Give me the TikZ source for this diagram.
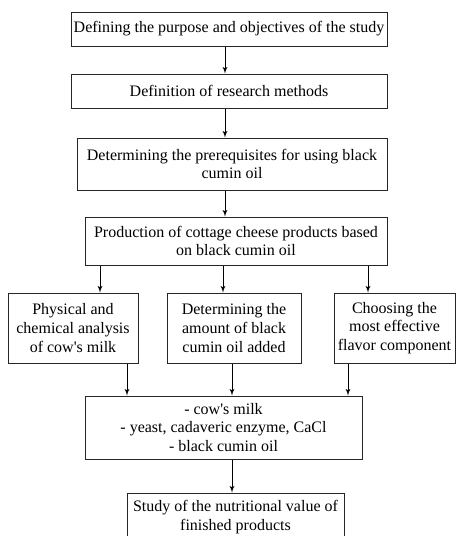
\documentclass[tikz,border=0pt]{standalone}
\usepackage{fontspec}
\setmainfont{Liberation Serif}[Ligatures=TeXOff]
\usetikzlibrary{arrows}

\begin{document}
\begin{tikzpicture}
		[x=0.75pt, y=-0.75pt,
		block/.style ={rectangle, draw=black!85, line width=0.75pt, align=center, inner sep=2pt,
		font=\fontsize{12}{14}\selectfont},
		line/.style ={draw, line width=0.7pt, -latex'},
		wide/.style = {block, minimum width=237pt, minimum height=25.5pt},
		side/.style = {block, minimum height=52.5pt},
		]

		\clip (0,0) rectangle (456,536);

		\draw (229,29) node[wide] (B1) {Defining the purpose and objectives of the study};
		\draw (229,91) node[wide] (B2) {Definition of research methods};
		\draw (232,164) node[block, minimum width=232.5pt, minimum height=39pt] (B3) {Determining the prerequisites for using black\\cumin oil};
		\draw (236,241) node[block, minimum width=226.5pt, minimum height=36pt] (B4) {Production of cottage cheese products based\\on black cumin oil};
		\draw (73,328) node[side, minimum width=97.5pt] (B5) {Physical and\\chemical analysis\\of cow's milk};
		\draw (234,328) node[side, minimum width=100.5pt] (B6) {Determining the\\amount of black\\cumin oil added};
		\draw (394.5,328) node[side, minimum width=90.75pt] (B7) {Choosing the\\most effective\\flavor component};
		\draw (223.5,427.5) node[block, minimum width=207.75pt, minimum height=47.25pt] (B8) {- cow's milk\\- yeast, cadaveric enzyme, CaCl\\- black cumin oil};
		\draw (235.5,517) node[block, minimum width=162.75pt, minimum height=36pt] (B9) {Study of the nutritional value of\\finished products};

		\path[line] (B1.south -| 225,0) -- (B2.north -| 225,0);
		\path[line] (B2.south -| 225,0) -- (B3.north -| 225,0);
		\path[line] (B3.south -| 225,0) -- (B4.north -| 225,0);
		\path[line] (B4.south -| 100,0) -- (B5.north -| 100,0);
		\path[line] (B4.south -| 223,0) -- (B6.north -| 223,0);
		\path[line] (B4.south -| 368,0) -- (B7.north -| 368,0);
		\path[line] (B5.south -| 127,0) -- (B8.north -| 127,0);
		\path[line] (B6.south -| 232,0) -- (B8.north -| 232,0);
		\path[line] (B7.south -| 348,0) -- (B8.north -| 348,0);
		\path[line] (B8.south -| 232,0) -- (B9.north -| 232,0);

	\end{tikzpicture}
\end{document}
